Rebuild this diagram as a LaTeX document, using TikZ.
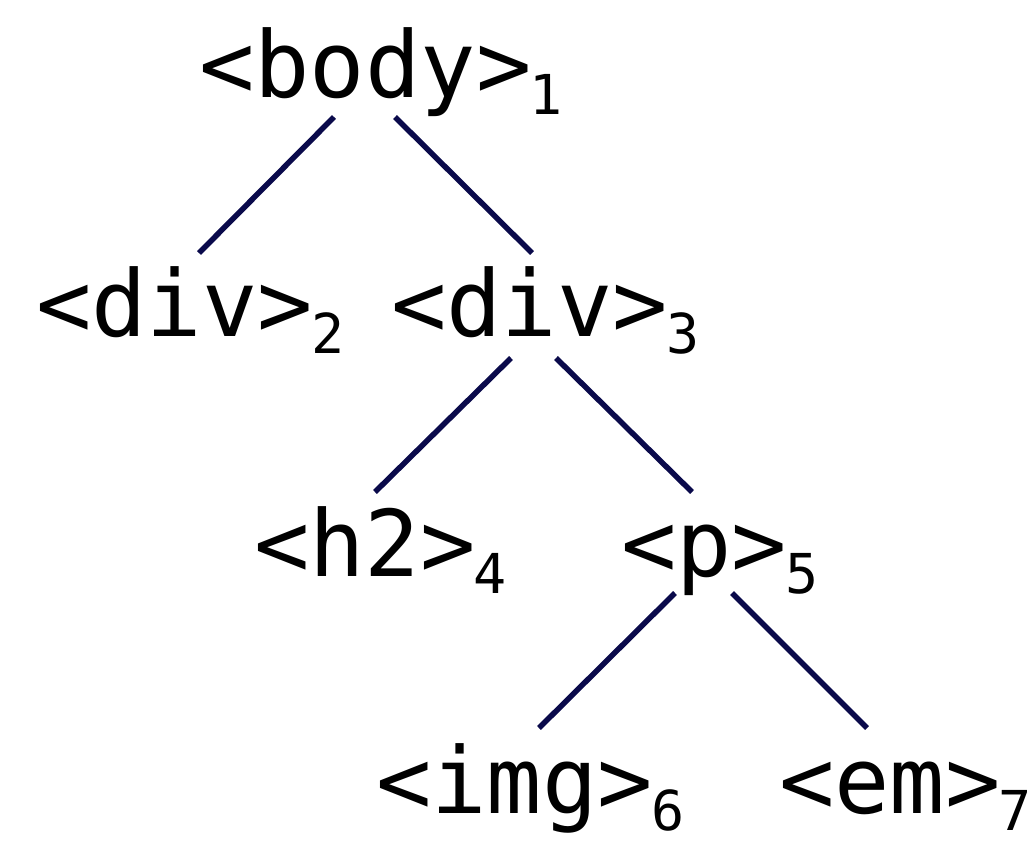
\documentclass[tikz,border=0pt]{standalone}
\usepackage{fontspec}
\setmonofont{DejaVu Sans Mono}
\usepackage{tikz}
\definecolor{edgenavy}{RGB}{10,10,75}
\newcommand{\tagsub}[2]{<#1>\kern-2pt\raisebox{-17pt}{\fontsize{55pt}{55pt}\selectfont #2}}

\begin{document}
\begin{tikzpicture}[x=1pt,y=-1pt,
    tag/.style={anchor=base west, inner sep=0pt, font=\fontsize{92pt}{92pt}\selectfont\ttfamily},
    edge/.style={draw=edgenavy, line width=5.5pt}]
                \useasboundingbox (0,0) rectangle (1035,849);

                % Tree nodes
                \node[tag] (body) at (199,97) {\tagsub{body}{1}};
                \node[tag] (div2) at (36,336) {\tagsub{div}{2}};
                \node[tag] (div3) at (391,336) {\tagsub{div}{3}};
                \node[tag] (h2) at (254,576) {\tagsub{h2}{4}};
                \node[tag] (p) at (621,576) {\tagsub{p}{5}};
                \node[tag] (img) at (376,813) {\tagsub{img}{6}};
                \node[tag] (em) at (779,813) {\tagsub{em}{7}};

                % Edges
                \draw[edge] ([xshift=135pt,yshift=-20pt]body.base west) -- ([xshift=163pt,yshift=83pt]div2.base west);
                \draw[edge] ([xshift=196pt,yshift=-20pt]body.base west) -- ([xshift=141pt,yshift=83pt]div3.base west);
                \draw[edge] ([xshift=120pt,yshift=-22pt]div3.base west) -- ([xshift=121pt,yshift=84pt]h2.base west);
                \draw[edge] ([xshift=165pt,yshift=-22pt]div3.base west) -- ([xshift=71pt,yshift=84pt]p.base west);
                \draw[edge] ([xshift=54pt,yshift=-17pt]p.base west) -- ([xshift=163pt,yshift=85pt]img.base west);
                \draw[edge] ([xshift=111pt,yshift=-17pt]p.base west) -- ([xshift=88pt,yshift=85pt]em.base west);
            \end{tikzpicture}
\end{document}
